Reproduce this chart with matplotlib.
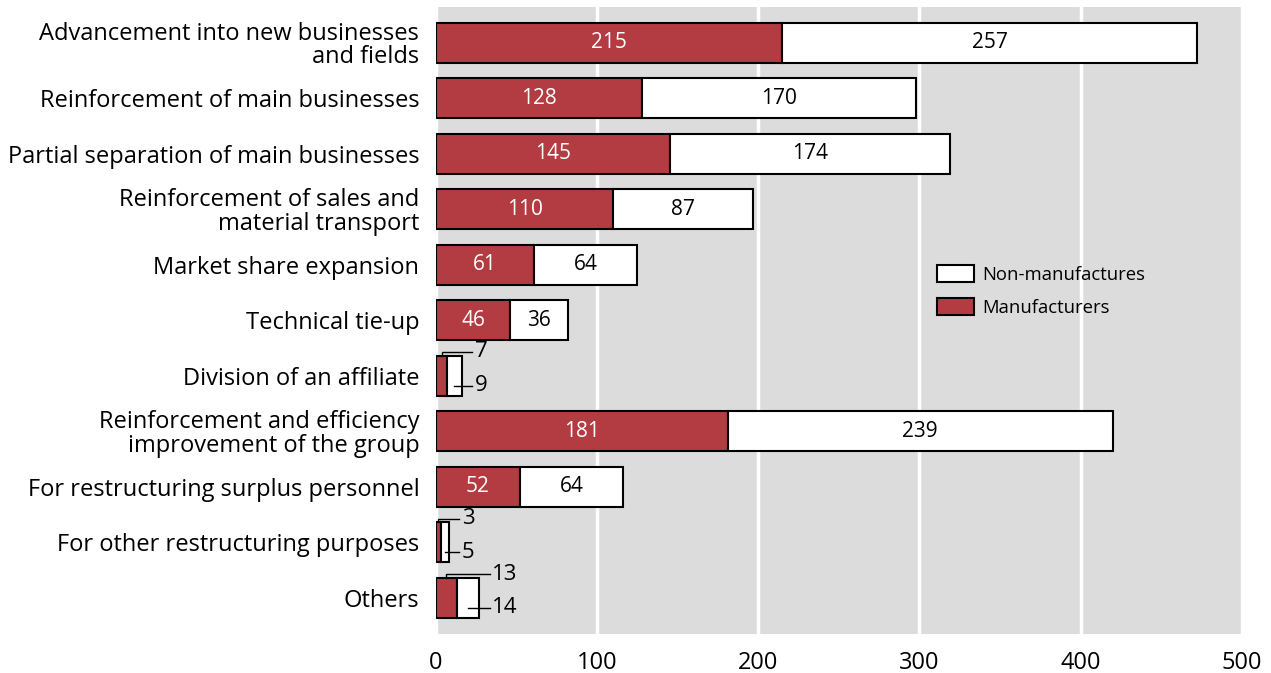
import matplotlib

matplotlib.use("Agg")

import matplotlib.pyplot as plt
from matplotlib.patches import Patch
import numpy as np

plt.rcParams["font.family"] = ["Open Sans", "DejaVu Sans"]

categories = [
    "Advancement into new businesses\nand fields",
    "Reinforcement of main businesses",
    "Partial separation of main businesses",
    "Reinforcement of sales and\nmaterial transport",
    "Market share expansion",
    "Technical tie-up",
    "Division of an affiliate",
    "Reinforcement and efficiency\nimprovement of the group",
    "For restructuring surplus personnel",
    "For other restructuring purposes",
    "Others",
]
manufacturers = [215, 128, 145, 110, 61, 46, 7, 181, 52, 3, 13]
non_manufactures = [257, 170, 174, 87, 64, 36, 9, 239, 64, 5, 14]

RED = "#b33c42"
BG = "#dcdcdc"

fig = plt.figure(figsize=(12.71, 6.73), dpi=100)
ax = fig.add_axes([0.343, 0.058, 0.634, 0.932])
ax.set_facecolor(BG)

y = np.arange(len(categories))
h = 0.72
ax.barh(y, manufacturers, height=h, color=RED, edgecolor="black", linewidth=1.5, zorder=3)
ax.barh(y, non_manufactures, height=h, left=manufacturers, color="white",
        edgecolor="black", linewidth=1.5, zorder=3)

# values inside the bars when they fit, leader lines for the tiny ones
for i, (m, n) in enumerate(zip(manufacturers, non_manufactures)):
    if m >= 20:
        ax.text(m / 2, i, str(m), ha="center", va="center", color="white",
                fontsize=15, zorder=4)
        ax.text(m + n / 2, i, str(n), ha="center", va="center", color="black",
                fontsize=15, zorder=4)
    else:
        tx = m + n + 8
        top = i - 0.43
        ax.plot([m / 2, m / 2, tx - 1.5], [i - h / 2, top, top], color="black",
                lw=1.0, zorder=4, solid_joinstyle="miter")
        ax.text(tx, top, str(m), ha="left", va="center", fontsize=16, zorder=4)
        low = i + 0.18
        ax.plot([m + n / 2, tx - 1.5], [low, low], color="black", lw=1.0, zorder=4)
        ax.text(tx, low, str(n), ha="left", va="center", fontsize=16, zorder=4)

ax.set_xlim(0, 500)
ax.set_ylim(len(categories) - 0.35, -0.65)
ax.set_xticks(range(0, 501, 100))
ax.set_yticks(y)
ax.set_yticklabels(categories, fontsize=17, linespacing=0.98)
ax.tick_params(axis="x", labelsize=17, length=0, pad=12)
ax.tick_params(axis="y", length=0, pad=12)
for lbl in ax.get_yticklabels():
    lbl.set_horizontalalignment("right")
    lbl.set_multialignment("right")
ax.grid(axis="x", color="white", linewidth=2.5, zorder=1)
ax.set_axisbelow(True)
for spine in ax.spines.values():
    spine.set_visible(False)

handles = [
    Patch(facecolor="white", edgecolor="black", linewidth=1.5, label="Non-manufactures"),
    Patch(facecolor=RED, edgecolor="black", linewidth=1.5, label="Manufacturers"),
]
ax.legend(handles=handles, loc="upper left", bbox_to_anchor=(0.613, 0.6),
          frameon=False, fontsize=13.3, handlelength=2.0, handleheight=1.0,
          handletextpad=0.45, labelspacing=0.8, borderaxespad=0)

fig.savefig("out.png", dpi=100)
